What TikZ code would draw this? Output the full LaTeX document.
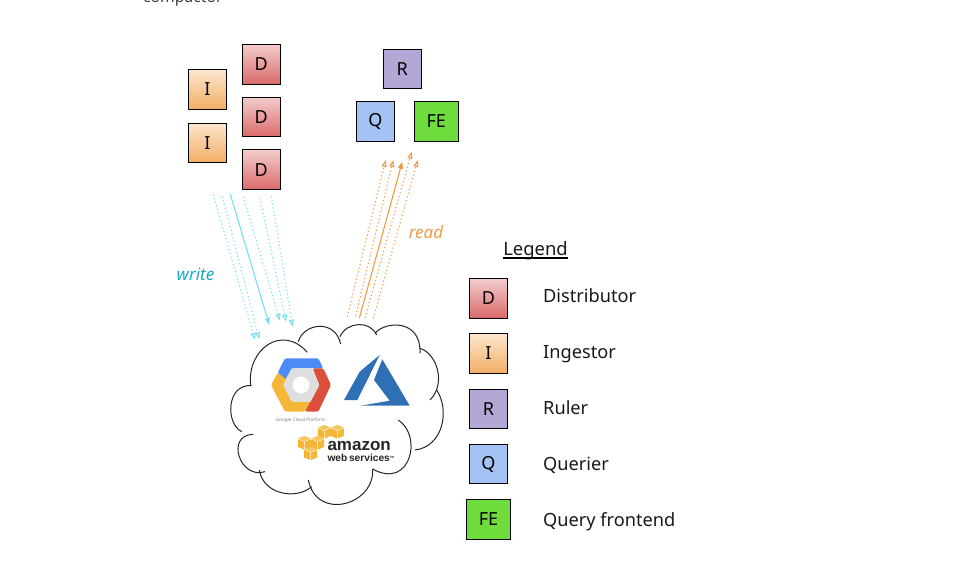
\documentclass[tikz,border=0pt]{standalone}
\usepackage{fontspec}
\setmainfont{Noto Sans}
\newfontfamily\awsfont{Liberation Sans}
\usetikzlibrary{arrows.meta}
\definecolor{writecol}{HTML}{76DFEE}
\definecolor{writetext}{HTML}{1AA9C9}
\definecolor{readcol}{HTML}{EF9B45}
\definecolor{distlight}{HTML}{F4CCCC}
\definecolor{distdark}{HTML}{DB6A6A}
\definecolor{ingestlight}{HTML}{FCE5CD}
\definecolor{ingestdark}{HTML}{F3AE66}
\definecolor{rulerfill}{HTML}{B4A7D6}
\definecolor{querierfill}{HTML}{A4C2F4}
\definecolor{frontfill}{HTML}{6FDC3E}
\definecolor{gcpblue}{HTML}{4C8BF5}
\definecolor{gcpred}{HTML}{DD4F3B}
\definecolor{gcpyellow}{HTML}{F5B738}
\definecolor{azureblue}{HTML}{2F6FB3}
\tikzset{
  box/.style={draw=black, line width=1pt, minimum width=38pt, minimum height=39.5pt, inner sep=0pt, font=\fontsize{18}{20}\selectfont},
  distbox/.style={box, top color=distlight, bottom color=distdark},
  ingestbox/.style={box, top color=ingestlight, bottom color=ingestdark},
  rulerbox/.style={box, fill=rulerfill},
  querierbox/.style={box, fill=querierfill},
  frontbox/.style={box, fill=frontfill, minimum width=44pt},
  legendtext/.style={anchor=base west, font=\fontsize{18.2}{20}\selectfont, inner sep=0pt, text=black!90},
  writeline/.style={writecol, line width=1.1pt, -{Triangle[length=7pt, width=5pt]}},
  writedot/.style={writecol, line width=1.1pt, dash pattern=on 1.2pt off 2.6pt, -{Triangle[open, length=7pt, width=5pt]}},
  readline/.style={readcol, line width=1.1pt, -{Triangle[length=7pt, width=5pt]}},
  readdot/.style={readcol, line width=1.1pt, dash pattern=on 1.2pt off 2.6pt, -{Triangle[open, length=7pt, width=5pt]}},
  pics/awscube/.style={code={
    \fill[gcpyellow!80!white] (-6.5,-4) -- (0,-6.8) -- (6.5,-4) -- (0,-1.5) -- cycle;
    \fill[gcpyellow!95!orange] (-6.5,-3.4) -- (-.4,-1) -- (-.4,6.8) -- (-6.5,4.2) -- cycle;
    \fill[gcpyellow] (6.5,-3.4) -- (.4,-1) -- (.4,6.8) -- (6.5,4.2) -- cycle;
  }},
}

\begin{document}
\begin{tikzpicture}[x=1pt, y=-1pt]
  \useasboundingbox (0,0) rectangle (967,571);
  \clip (0,0) rectangle (967,571);

  \node[anchor=base west, inner sep=0pt, text=black!75, font=\fontsize{15.7}{18}\selectfont] (compactor) at (143,2) {compactor};

  % write path
  \node[distbox] (d1) at (261.2,64.3) {D};
  \node[distbox] (d2) at (261.2,117) {D};
  \node[distbox] (d3) at (261.2,169.7) {D};
  \node[ingestbox] (i1) at (207.4,89.5) {I};
  \node[ingestbox] (i2) at (207.4,143) {I};

  % read path
  \node[rulerbox] (r1) at (402.3,69) {R};
  \node[querierbox] (q1) at (375.3,121.5) {Q};
  \node[frontbox] (fe1) at (436.3,121.5) {FE};

  \foreach \n/\xa/\ya/\xb/\yb in {1/213.3/194.3/255/340, 2/222.3/196.7/259.3/339.3, 3/243.3/196.7/280/320.7, 4/260/197.7/286/321.7, 5/271.3/196/292.7/326.7} {
    \coordinate (w\n s) at (\xa,\ya);
    \coordinate (w\n e) at (\xb,\yb);
    \draw[writedot] (w\n s) -- (w\n e);
  }
  \coordinate (w0s) at (230.3,194.3);
  \coordinate (w0e) at (269.3,325);
  \draw[writeline] (w0s) -- (w0e);

  \foreach \n/\xa/\ya/\xb/\yb in {1/347.3/316.7/385.7/160, 2/355.7/315.7/393.3/160, 3/365/317.7/411.7/151.7, 4/373.3/318.3/417.7/160} {
    \coordinate (r\n s) at (\xa,\ya);
    \coordinate (r\n e) at (\xb,\yb);
    \draw[readdot] (r\n s) -- (r\n e);
  }
  \coordinate (r0s) at (359.3,318.3);
  \coordinate (r0e) at (402.3,161.7);
  \draw[readline] (r0s) -- (r0e);

  \node[text=writetext, font=\fontsize{17}{18}\selectfont\itshape, inner sep=0pt] (writelabel) at (195.5,274) {write};
  \node[text=readcol, font=\fontsize{17}{18}\selectfont\itshape, inner sep=0pt] (readlabel) at (426,232) {read};

  % cloud
  \begin{scope}[shift={(220,320)}, x=.3333pt, y=-.3333pt]
    \foreach \ax/\ay/\bx/\by/\cx/\cy/\dx/\dy in {92/195/80/90/185/10/262/97, 235/65/250/10/345/-5/362/72, 360/50/380/5/450/0/470/45, 465/40/500/0/605/0/600/100, 600/85/650/100/680/190/630/240, 650/210/690/270/670/380/585/390, 535/300/610/350/570/510/458/447, 458/447/465/555/290/605/265/480, 275/500/230/540/130/525/118/450, 135/455/60/480/15/345/100/343, 65/335/15/310/20/190/95/197} {
      \draw[black!85, line width=1pt] (\ax,\ay) .. controls (\bx,\by) and (\cx,\cy) .. (\dx,\dy);
    }
  \end{scope}

  % google logo
  \fill[gcpblue, rounded corners=1.5pt] (277.7,372.7) -- (285,358.3) -- (318.3,358.3) -- (323.3,368.3) -- (291.7,368.3) -- (284.3,381.7) -- cycle;
  \fill[gcpyellow, rounded corners=1.5pt] (277.7,372.7) -- (271,385) -- (285,411.7) -- (305,411.7) -- (311,401.7) -- (291.7,401.7) -- (283.3,385) -- (286,379) -- cycle;
  \fill[gcpred, rounded corners=1.5pt] (312.7,368.3) -- (323.3,368.3) -- (331,385) -- (318.3,411.7) -- (305,411.7) -- (319.3,385) -- cycle;
  \fill[black!13] (283.3,385) -- (291.7,368.3) -- (311.7,368.3) -- (319.3,385) -- (310.7,401.7) -- (291.7,401.7) -- cycle;
  \fill[white] (301,385) circle (8.5);
  \node[text=black!50, font=\fontsize{4.6}{5}\selectfont, inner sep=0pt] (gcptext) at (300.5,420) {Google Cloud Platform};

  % azure logo
  \fill[azureblue] (379.7,355) -- (359.7,371.7) -- (344,400) -- (357.3,400) -- cycle;
  \fill[azureblue] (382.3,359.3) -- (374,380) -- (389.7,400.7) -- (360.7,405.7) -- (409.7,405.7) -- cycle;

  % amazon logo
  \pic at (324.3,431.7) {awscube};
  \pic at (337.3,431.7) {awscube};
  \pic at (304.3,442.7) {awscube};
  \pic at (317.7,442.7) {awscube};
  \pic at (310.7,453.3) {awscube};
  \node[anchor=base west, inner sep=0pt, text=black!85, font=\awsfont\fontsize{17}{18}\selectfont\bfseries] (awsname) at (327.3,450.5) {amazon};
  \node[anchor=base west, inner sep=0pt, text=black!85, font=\awsfont\fontsize{10.2}{12}\selectfont\bfseries] (awssub) at (327.3,461.5) {web\,services\raisebox{3pt}{\fontsize{3}{3}\selectfont TM}};

  % legend
  \node[anchor=base, inner sep=0pt, font=\fontsize{18.4}{20}\selectfont, text=black!90] (legendtitle) at (535.5,255) {Legend};
  \draw[black, line width=1.1pt] (legendtitle.base west) ++(0,3) -- ++(65,0);
  \node[distbox] (legd) at (488.5,298.5) {D};
  \node[ingestbox] (legi) at (488.5,353.5) {I};
  \node[rulerbox] (legr) at (488.5,409) {R};
  \node[querierbox] (legq) at (488.5,464) {Q};
  \node[frontbox] (legfe) at (488.5,519.5) {FE};
  \node[legendtext] (textd) at (543,302.4) {Distributor};
  \node[legendtext] (texti) at (543,358) {Ingestor};
  \node[legendtext] (textr) at (543,414.4) {Ruler};
  \node[legendtext] (textq) at (543,470.4) {Querier};
  \node[legendtext] (textfe) at (543,526.1) {Query frontend};
\end{tikzpicture}
\end{document}
